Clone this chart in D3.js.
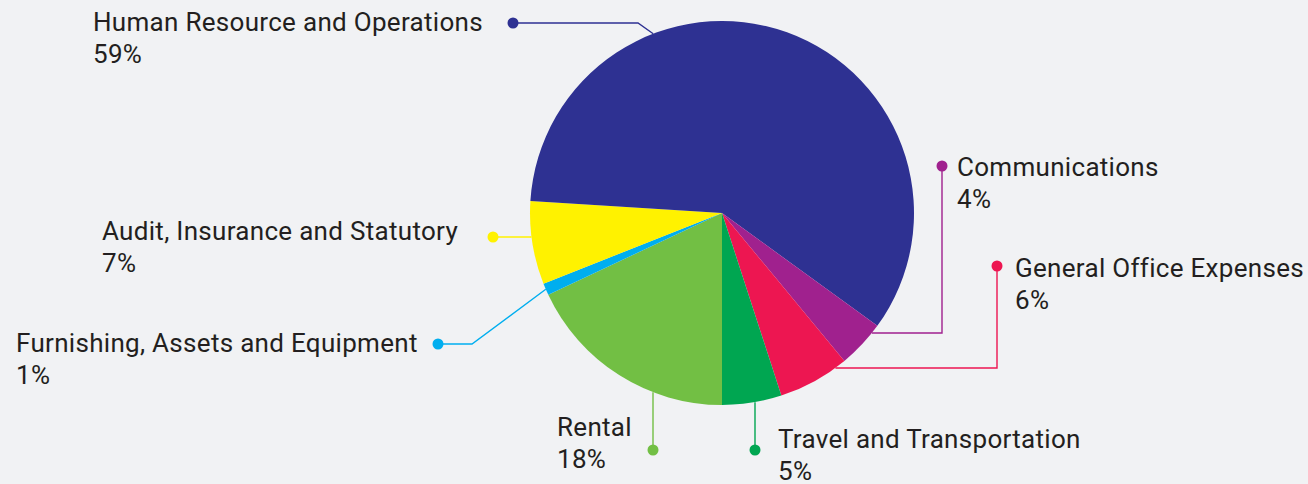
<!DOCTYPE html>
<html>
<head>
<meta charset="utf-8">
<script src="https://cdn.jsdelivr.net/npm/d3@7"></script>
<style>
  html, body { margin: 0; padding: 0; background: #f1f2f4; }
  svg { display: block; }
  text { font-family: Roboto, "Noto Sans", sans-serif; font-size: 26px; font-weight: 400; letter-spacing: 0.3px; fill: #231f20; }
</style>
</head>
<body>
<svg id="chart" width="1308" height="484"></svg>
<script>
// ---- data (pie drawn clockwise starting at 6 o'clock) ----
const categories = [
  "Rental",
  "Furnishing, Assets and Equipment",
  "Audit, Insurance and Statutory",
  "Human Resource and Operations",
  "Communications",
  "General Office Expenses",
  "Travel and Transportation"
];
const values = [18, 1, 7, 59, 4, 6, 5];
const percentLabels = ["18%", "1%", "7%", "59%", "4%", "6%", "5%"];
const colors = ["#72bf44", "#00aeef", "#fff200", "#2e3192", "#a0218e", "#ed1651", "#00a651"];

// ---- layout (annotation placement, separate from data) ----
const width = 1308, height = 484;
const cx = 722, cy = 213, radius = 192;
const lineGap = 32;
// anchor: angle (deg) on the rim where the leader touches; dot: dot position; bend: optional elbow; text: first-line start
const labelLayout = [
  { anchorDeg: 201,   dot: [653, 450], bend: null,       text: [557, 436] },
  { anchorDeg: 246.6, dot: [438, 344], bend: [472, 344], text: [16, 352] },
  { anchorDeg: 262.9, dot: [493, 237], bend: null,       text: [102, 240] },
  { anchorDeg: 339,   dot: [513, 23],  bend: [638, 23],  text: [93, 31] },
  { anchorDeg: 128.7, dot: [942, 166], bend: "elbowV",   text: [957, 176] },
  { anchorDeg: 143.8, dot: [997, 266], bend: "elbowV",   text: [1015, 277] },
  { anchorDeg: 170.1, dot: [755, 450], bend: null,       text: [778, 448] }
];

const svg = d3.select("#chart");
svg.append("rect").attr("width", width).attr("height", height).attr("fill", "#f1f2f4");

const rows = categories.map((c, i) => ({ name: c, value: values[i], pct: percentLabels[i], color: colors[i], layout: labelLayout[i] }));

const pie = d3.pie().sort(null).value(d => d.value).startAngle(Math.PI).endAngle(3 * Math.PI);
const arc = d3.arc().innerRadius(0).outerRadius(radius);

const g = svg.append("g").attr("transform", `translate(${cx},${cy})`);
g.selectAll("path.slice")
  .data(pie(rows))
  .join("path")
  .attr("class", "slice")
  .attr("d", arc)
  .attr("fill", d => d.data.color);

// leader lines
const rimPoint = deg => {
  const a = deg * Math.PI / 180;
  return [cx + radius * Math.sin(a), cy - radius * Math.cos(a)];
};
const ann = svg.append("g");
rows.forEach(d => {
  const L = d.layout;
  const end = rimPoint(L.anchorDeg);
  let pts;
  if (L.bend === "elbowV") {
    pts = [L.dot, [L.dot[0], end[1]], end];
  } else if (L.bend) {
    pts = [L.dot, L.bend, end];
  } else if (Math.abs(L.dot[0] - end[0]) < Math.abs(L.dot[1] - end[1])) {
    pts = [L.dot, [L.dot[0], end[1]]];
  } else {
    pts = [L.dot, [end[0], L.dot[1]]];
  }
  ann.append("path")
    .attr("d", d3.line()(pts))
    .attr("fill", "none")
    .attr("stroke", d.color)
    .attr("stroke-width", 1.4);
  ann.append("circle")
    .attr("cx", L.dot[0]).attr("cy", L.dot[1]).attr("r", 5.5)
    .attr("fill", d.color);
  const t = ann.append("text").attr("x", L.text[0]).attr("y", L.text[1]);
  t.append("tspan").attr("x", L.text[0]).text(d.name);
  t.append("tspan").attr("x", L.text[0]).attr("dy", lineGap).text(d.pct);
});
</script>
</body>
</html>
